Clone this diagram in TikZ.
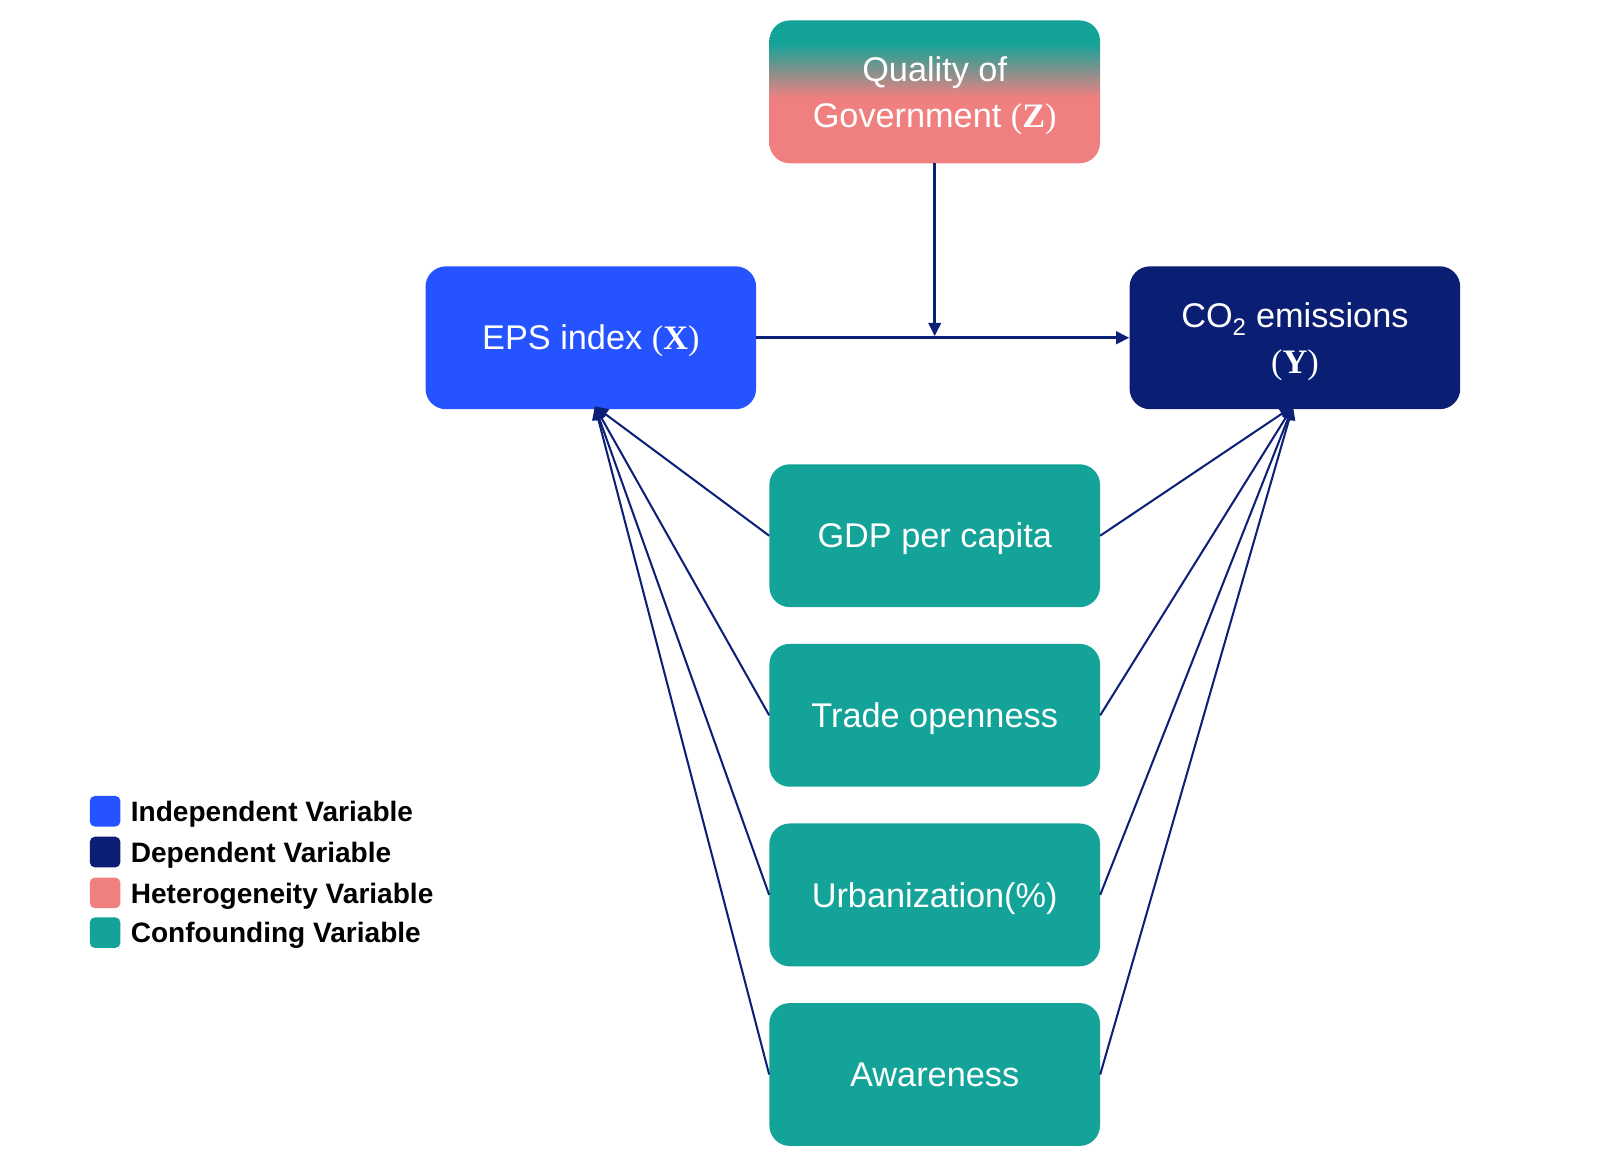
\documentclass[tikz,border=0pt]{standalone}
\usepackage{fontspec}
\setmainfont{Liberation Sans}
\newfontfamily\serifvar{Liberation Serif}
\usetikzlibrary{arrows.meta}
\definecolor{indblue}{RGB}{37,83,255}
\definecolor{depnavy}{RGB}{10,31,115}
\definecolor{hetpink}{RGB}{240,128,128}
\definecolor{conteal}{RGB}{19,163,152}
\definecolor{linenavy}{RGB}{12,32,120}
\pgfdeclareverticalshading{zshade}{100bp}{color(0bp)=(hetpink); color(48bp)=(hetpink); color(67bp)=(conteal); color(100bp)=(conteal)}
\newcommand{\varl}[1]{{\serifvar(\textbf{#1})}}
\tikzset{
  varbox/.style={minimum width=324pt, minimum height=140pt, rounded corners=20pt, inner sep=0pt, text=white, align=center, font=\fontsize{33.6}{45}\selectfont, text depth=0pt},
  oneline/.style={text height=24pt},
  legsq/.style={minimum width=30pt, minimum height=30pt, rounded corners=5pt, inner sep=0pt},
  legtxt/.style={anchor=base west, inner sep=0pt, font=\fontsize{27.5}{30}\selectfont\bfseries},
  mainarrow/.style={draw=linenavy, line width=3pt, -{Triangle[length=13pt,width=12pt]}},
  confarrow/.style={draw=linenavy, line width=2pt, -{Triangle[length=13pt,width=12pt]}}
}
\begin{document}
\begin{tikzpicture}[x=1pt,y=-1pt]
\useasboundingbox (0,0) rectangle (1568,1141.7);
\node[varbox, shading=zshade] (z) at (916,90) {Quality of\\Government \varl{Z}};
\node[varbox, oneline, fill=indblue] (ex) at (579,331) {EPS index \varl{X}};
\node[varbox, fill=depnavy] (wy) at (1269,331) {CO\textsubscript{2} emissions\\\varl{Y}};
\node[varbox, oneline, fill=conteal] (gdp) at (916,525) {GDP per capita};
\node[varbox, oneline, fill=conteal] (trade) at (916,701) {Trade openness};
\node[varbox, oneline, fill=conteal] (urban) at (916,877) {Urbanization(\%)};
\node[varbox, oneline, fill=conteal] (aware) at (916,1053) {Awareness};
\coordinate (mid) at (z.south |- ex.east);
\coordinate (xin) at ([xshift=4pt,yshift=3pt]ex.south);
\coordinate (yin) at ([xshift=-2pt,yshift=3pt]wy.south);
\draw[mainarrow] (ex.east) -- (wy.west);
\draw[mainarrow] (z.south) -- ([yshift=1.5pt]mid);
\foreach \n in {gdp,trade,urban,aware}{
  \draw[confarrow] (\n.west) -- (xin);
  \draw[confarrow] (\n.east) -- (yin);
}
\node[legsq, fill=indblue] (l1) at (103,795) {};
\node[legsq, fill=depnavy] (l2) at (103,835) {};
\node[legsq, fill=hetpink] (l3) at (103,875) {};
\node[legsq, fill=conteal] (l4) at (103,914) {};
\node[legtxt] (t1) at (128,805) {Independent Variable};
\node[legtxt] (t2) at (128,845) {Dependent Variable};
\node[legtxt] (t3) at (128,885) {Heterogeneity Variable};
\node[legtxt] (t4) at (128,924) {Confounding Variable};
\end{tikzpicture}
\end{document}
